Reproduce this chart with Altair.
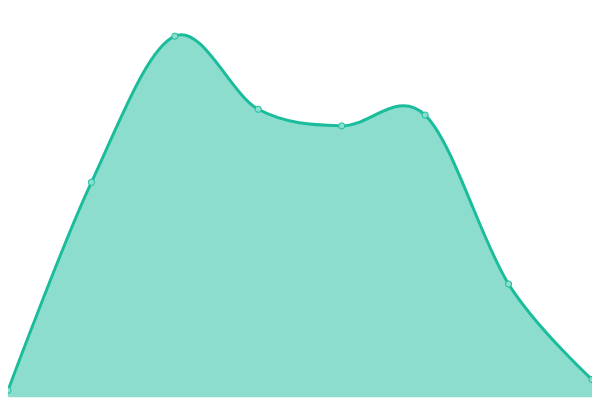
import altair as alt
import pandas as pd

xs = [0, 1, 2, 3, 4, 5, 6, 7]
values = [1.8, 55.6, 93.4, 74.5, 70.2, 73.0, 29.3, 4.6]

df = pd.DataFrame({"x": xs, "v": values})

xenc = alt.X("x:Q", scale=alt.Scale(domain=[0, 7], nice=False, zero=False), axis=None)
yenc = alt.Y("v:Q", scale=alt.Scale(domain=[0, 100], nice=False), axis=None)

base = alt.Chart(df).encode(x=xenc, y=yenc)

area = base.mark_area(interpolate="cardinal", color="#1abc9c", opacity=0.5)
line = base.mark_line(interpolate="cardinal", color="#1abc9c", strokeWidth=3)
pts = base.mark_point(filled=True, shape="circle", size=40, fill="#8ddece",
                      stroke="#1abc9c", strokeWidth=1, opacity=1)

chart = (area + line + pts).properties(
    width=592, height=392, padding=0,
    autosize=alt.AutoSizeParams(type="none"),
).configure_view(stroke=None)

chart.save("out.html", embed_options={"renderer": "svg", "actions": False})
